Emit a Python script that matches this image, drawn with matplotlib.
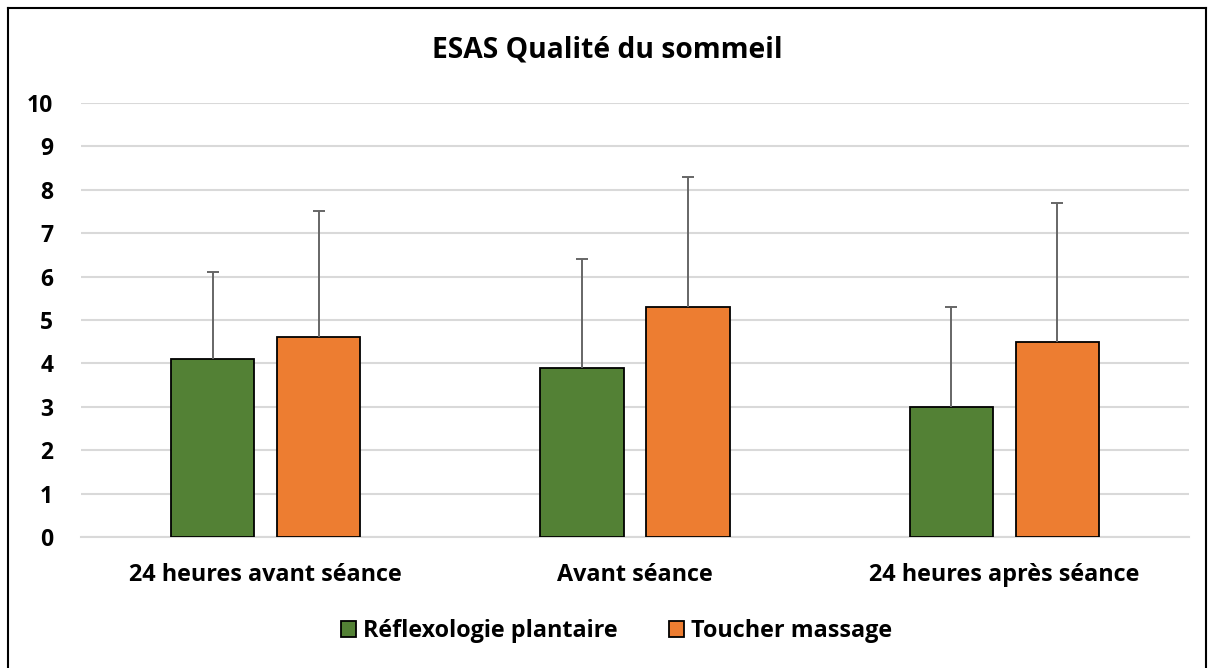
import matplotlib.pyplot as plt
import numpy as np
from matplotlib.lines import Line2D

categories = ["24 heures avant séance", "Avant séance", "24 heures après séance"]
series_names = ["Réflexologie plantaire", "Toucher massage"]
reflexo = [4.1, 3.9, 3.0]
reflexo_err = [2.0, 2.5, 2.3]
toucher = [4.6, 5.3, 4.5]
toucher_err = [2.9, 3.0, 3.2]

green = "#538135"
orange = "#ED7D31"

plt.rcParams["font.family"] = ["Open Sans", "DejaVu Sans"]
plt.rcParams["font.weight"] = "bold"

fig = plt.figure(figsize=(12.14, 6.68), dpi=100)
ax = fig.add_axes([81 / 1214, 1 - 537 / 668, (1189 - 81) / 1214, (537 - 103) / 668])

x = np.arange(len(categories))
off = 0.1435
w = 0.225
err_kw = {"ecolor": "#666666", "elinewidth": 1.4, "capsize": 4.5, "capthick": 1.4}
for xs, vals, errs, col in [(x - off, reflexo, reflexo_err, green),
                            (x + off, toucher, toucher_err, orange)]:
    bars = ax.bar(xs, vals, w, color=col, edgecolor="black", linewidth=1.3,
                  yerr=[np.zeros(len(errs)), errs], error_kw=err_kw, zorder=3)
    # only the upper cap is shown
    caps = bars.errorbar.lines[1]
    caps[0].set_visible(False)

ax.set_xlim(-0.5, 2.5)
ax.set_ylim(0, 10)
ax.set_yticks(range(11))
ax.yaxis.grid(True, color="#d9d9d9", linewidth=1.5, zorder=0)
ax.set_axisbelow(True)
for s in ["top", "right", "left"]:
    ax.spines[s].set_visible(False)
ax.spines["bottom"].set_color("#d9d9d9")
ax.spines["bottom"].set_linewidth(1.5)
ax.tick_params(axis="both", length=0)
ax.tick_params(axis="y", pad=20, labelsize=16.5)
ax.tick_params(axis="x", pad=19)
ax.set_xticks(x)
ax.set_xticklabels(categories, fontsize=16.8, fontweight="bold")
for lab in ax.get_yticklabels():
    lab.set_fontweight("bold")

fig.text(0.5, 1 - 50 / 668, "ESAS Qualité du sommeil", ha="center", va="center",
         fontsize=20.3, fontweight="bold")

handles = [plt.Rectangle((0, 0), 1, 1, facecolor=green, edgecolor="black", linewidth=1.3),
           plt.Rectangle((0, 0), 1, 1, facecolor=orange, edgecolor="black", linewidth=1.3)]
fig.legend(handles, series_names, loc="center", bbox_to_anchor=(0.508, 1 - 631 / 668),
           ncol=2, frameon=False, prop={"size": 16.8, "weight": "bold"},
           handlelength=0.65, handleheight=0.65, handletextpad=0.3, columnspacing=2.2)

# outer border (bottom edge is cut off in the reference)
for xs, ys in [((8, 8), (8, 668)), ((8, 1206), (8, 8)), ((1206, 1206), (8, 668))]:
    fig.add_artist(Line2D([v / 1214 for v in xs], [1 - v / 668 for v in ys],
                          color="black", linewidth=1.5))

fig.savefig("out.png", dpi=100)
